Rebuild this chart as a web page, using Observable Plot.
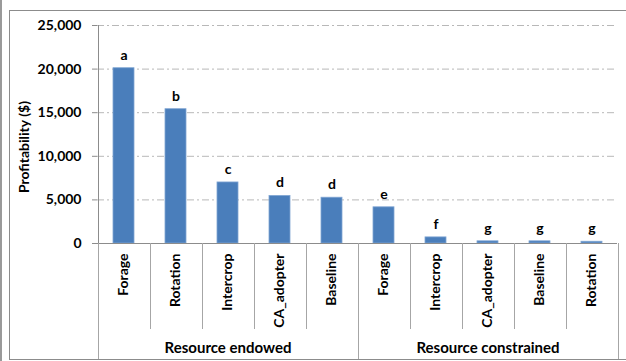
<!DOCTYPE html>
<html>
<head>
<meta charset="utf-8">
<script src="https://cdn.jsdelivr.net/npm/d3@7"></script>
<script src="https://cdn.jsdelivr.net/npm/@observablehq/plot@0.6"></script>
<style>
  html, body { margin: 0; padding: 0; background: #fff; }
  #wrap { position: relative; width: 626px; height: 361px; overflow: hidden; }
  #edge { position: absolute; left: 0; top: 0; width: 2px; height: 361px; background: #9a9a9a; }
  #frame { position: absolute; left: 9px; top: 10px; width: 630px; height: 348px; border: 1px solid #8c8c8c; }
  #chart { position: absolute; left: 0; top: 0; }
</style>
</head>
<body>
<div id="wrap"><div id="edge"></div><div id="frame"></div><div id="chart"></div></div>
<script>
const groups = ["Resource endowed", "Resource endowed", "Resource endowed", "Resource endowed", "Resource endowed",
                "Resource constrained", "Resource constrained", "Resource constrained", "Resource constrained", "Resource constrained"];
const categories = ["Forage", "Rotation", "Intercrop", "CA_adopter", "Baseline",
                    "Forage", "Intercrop", "CA_adopter", "Baseline", "Rotation"];
const values = [20100, 15400, 7000, 5450, 5250, 4150, 700, 250, 250, 200];
const letters = ["a", "b", "c", "d", "d", "e", "f", "g", "g", "g"];
const yTicks = [0, 5000, 10000, 15000, 20000, 25000];
const groupNames = ["Resource endowed", "Resource constrained"];
const yLabel = "Profitability ($)";

const data = categories.map((c, i) => ({key: groups[i] + "|" + c, group: groups[i], cat: c, value: values[i], letter: letters[i]}));
const keys = data.map(d => d.key);
// middle category of each group carries the group label
const groupCenters = groupNames.map(g => {
  const members = data.filter(d => d.group === g);
  return {key: members[Math.floor(members.length / 2)].key, name: g};
});

const font = "Lato, 'Open Sans', sans-serif";
const W = 626, H = 361;

const plot = Plot.plot({
  width: W, height: H,
  marginLeft: 97, marginRight: 9, marginTop: 25, marginBottom: 118,
  style: {fontFamily: font, fontSize: "14px", fontWeight: "bold", color: "#000", background: "transparent"},
  x: {domain: keys, paddingInner: 0.6, paddingOuter: 0.3, align: 0.5},
  y: {domain: [0, 25000]},
  marks: [
    Plot.ruleY(yTicks.filter(d => d > 0), {stroke: "#b8b8b8", strokeDasharray: "7,3,2,3"}),
    Plot.barY(data, {x: "key", y: "value", fill: "#4a7ebb", stroke: "#7fa5d3", strokeWidth: 0.8}),
    Plot.text(data, {x: "key", y: "value", text: "letter", dy: -13, fontSize: 14, fontWeight: "bold", fill: "#000"}),
    Plot.axisY({ticks: yTicks, tickFormat: d3.format(","), tickSize: 5, tickPadding: 11, stroke: "#8c8c8c",
      label: null, fontSize: 14, fontWeight: "bold"}),
    Plot.axisX({tickFormat: d => d.split("|")[1], tickRotate: -90, tickSize: 0, tickPadding: 10, label: null, fontSize: 14, fontWeight: "bold"}),
    Plot.ruleY([0], {stroke: "#8c8c8c"}),
    Plot.text(groupCenters, {x: "key", y: () => 0, text: "name", dy: 105, fontSize: 15, fontWeight: "bold", fill: "#000"})
  ]
});

// category separators and y axis line, drawn from the plot's own scales
const xs = plot.scale("x");
const ys = plot.scale("y");
const step = xs.step;
const bw = xs.bandwidth;
const y0 = ys.apply(0);
const yTop = ys.apply(d3.max(yTicks));
const svg = d3.select(plot);
const sep = svg.append("g").attr("stroke", "#a6a6a6").attr("stroke-width", 1);
keys.forEach((k, i) => {
  const left = Math.round(xs.apply(k) - (step - bw) / 2) + 0.5;
  const isGroupStart = i === 0 || data[i].group !== data[i - 1].group;
  sep.append("line").attr("x1", left).attr("x2", left)
    .attr("y1", y0).attr("y2", isGroupStart ? H - 2 : y0 + 86);
  if (i === 0) {
    svg.append("line").attr("x1", left).attr("x2", left).attr("y1", yTop).attr("y2", y0).attr("stroke", "#8c8c8c");
  }
});
const lastRight = Math.round(xs.apply(keys[keys.length - 1]) - (step - bw) / 2 + step) + 0.5;
sep.append("line").attr("x1", lastRight).attr("x2", lastRight).attr("y1", y0).attr("y2", H - 2);

// y axis title
svg.append("text").text(yLabel)
  .attr("transform", `translate(23,${(yTop + y0) / 2 + 13}) rotate(-90)`)
  .attr("text-anchor", "middle").attr("dominant-baseline", "central")
  .attr("font-family", font).attr("font-size", 14).attr("font-weight", "bold").attr("fill", "#000");

document.getElementById("chart").appendChild(plot);
</script>
</body>
</html>
